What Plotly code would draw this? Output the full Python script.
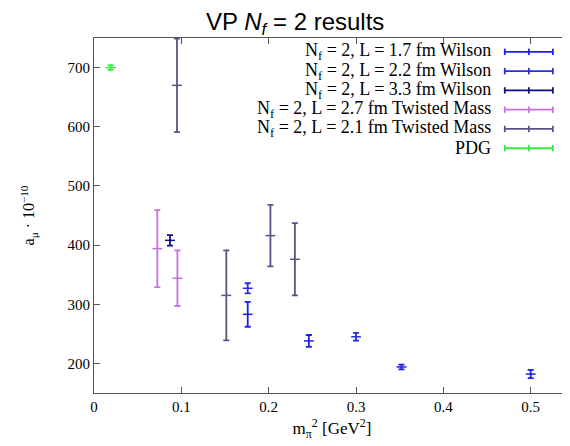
import plotly.graph_objects as go

# ---------------------------------------------------------
# Data (x = m_pi^2 [GeV^2], y = a_mu * 1e10)
# ---------------------------------------------------------
wilson_17_x = [0.176, 0.246, 0.352, 0.500]
wilson_17_y = [283, 238, 194, 182]
wilson_17_err = [21, 10, 4, 7]

wilson_22_x = [0.176, 0.300]
wilson_22_y = [327, 245]
wilson_22_err = [8.5, 6.5]

wilson_33_x = [0.087]
wilson_33_y = [408]
wilson_33_err = [9]

tm_27_x = [0.0725, 0.0955]
tm_27_y = [394, 344]
tm_27_err = [65, 47]

tm_21_x = [0.095, 0.1515, 0.202, 0.230]
tm_21_y = [670, 315, 416, 376]
tm_21_err = [79, 76, 52, 61]

pdg_x = [0.019]
pdg_y = [700]
pdg_err = [4]

x_ticks = [0, 0.1, 0.2, 0.3, 0.4, 0.5]
y_ticks = [200, 300, 400, 500, 600, 700]

series = [
    ("N<sub>f</sub> = 2, L = 1.7 fm Wilson", "rgb(30,30,235)", wilson_17_x, wilson_17_y, wilson_17_err),
    ("N<sub>f</sub> = 2, L = 2.2 fm Wilson", "rgb(40,45,225)", wilson_22_x, wilson_22_y, wilson_22_err),
    ("N<sub>f</sub> = 2, L = 3.3 fm Wilson", "rgb(15,15,125)", wilson_33_x, wilson_33_y, wilson_33_err),
    ("N<sub>f</sub> = 2, L = 2.7 fm Twisted Mass", "rgb(200,110,230)", tm_27_x, tm_27_y, tm_27_err),
    ("N<sub>f</sub> = 2, L = 2.1 fm Twisted Mass", "rgb(95,80,135)", tm_21_x, tm_21_y, tm_21_err),
    ("PDG", "rgb(50,240,60)", pdg_x, pdg_y, pdg_err),
]

SERIF = "Liberation Serif"
AXIS_COLOR = "#555555"

fig = go.Figure()
for label, color, xs, ys, errs in series:
    fig.add_trace(
        go.Scatter(
            x=xs,
            y=ys,
            mode="markers",
            name=label,
            marker=dict(symbol="line-ew", size=7, line=dict(color=color, width=1.5)),
            error_y=dict(type="data", array=errs, color=color, thickness=1.8, width=3),
            showlegend=False,
        )
    )

# hand-made legend: text right-aligned, error-bar sample on the right
row_top = 0.961
row_step = 0.0543
text_right = 0.838
sample_x0, sample_x1 = 0.863, 0.964
cap = 0.009
for i, (label, color, *_rest) in enumerate(series):
    yy = row_top - i * row_step
    fig.add_annotation(
        x=text_right, y=yy, xref="paper", yref="paper",
        text=label, showarrow=False, xanchor="right", yanchor="middle",
        font=dict(family=SERIF, size=18, color="black"),
    )
    fig.add_shape(type="line", xref="paper", yref="paper",
                  x0=sample_x0, x1=sample_x1, y0=yy, y1=yy,
                  line=dict(color=color, width=1.8))
    for xc in (sample_x0, (sample_x0 + sample_x1) / 2, sample_x1):
        fig.add_shape(type="line", xref="paper", yref="paper",
                      x0=xc, x1=xc, y0=yy - cap, y1=yy + cap,
                      line=dict(color=color, width=1.8))

# the page body has an 8px margin, so the figure is 8px smaller than the window
fig.update_layout(
    width=562,
    height=438,
    paper_bgcolor="white",
    plot_bgcolor="white",
    margin=dict(l=86, r=0, t=30, b=53),
    title=dict(
        text="VP <i>N<sub>f</sub></i> = 2 results",
        x=0.511, xanchor="center", y=0.968, yanchor="middle",
        font=dict(family="Liberation Sans", size=24, color="black"),
    ),
    xaxis=dict(
        range=[0, 0.545],
        tickvals=x_ticks,
        ticktext=[str(v) for v in x_ticks],
        ticks="inside", ticklen=6, tickcolor=AXIS_COLOR,
        showline=True, linecolor=AXIS_COLOR, linewidth=1, mirror="ticks",
        showgrid=False, zeroline=False,
        tickfont=dict(family=SERIF, size=15, color="black"),
        title=dict(text="m<sub>π</sub><sup>2</sup> [GeV<sup>2</sup>]",
                   font=dict(family=SERIF, size=17, color="black"), standoff=8),
    ),
    yaxis=dict(
        range=[150, 750],
        tickvals=y_ticks,
        ticks="inside", ticklen=6, tickcolor=AXIS_COLOR,
        showline=True, linecolor=AXIS_COLOR, linewidth=1, mirror="ticks",
        showgrid=False, zeroline=False,
        tickfont=dict(family=SERIF, size=15, color="black"),
        title=dict(text="a<sub>μ</sub> · 10<sup>−10</sup>",
                   font=dict(family=SERIF, size=16, color="black"), standoff=28),
    ),
)

fig.write_html("out.html")
